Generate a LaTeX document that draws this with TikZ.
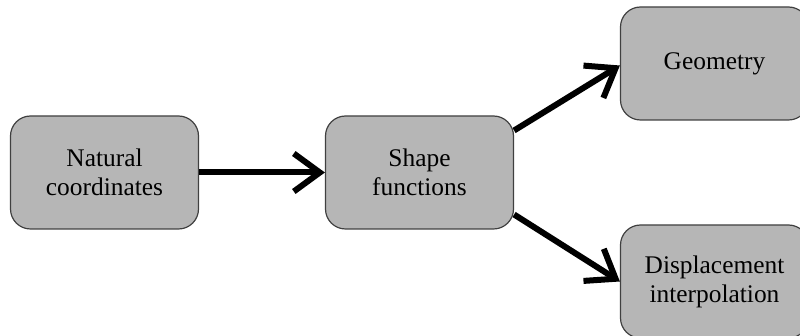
\documentclass[tikz,border=0pt]{standalone}
\usepackage{fontspec}
\setmainfont{Liberation Serif}
\usetikzlibrary{arrows.meta}
\definecolor{boxgray}{RGB}{182,182,182}
\begin{document}
\begin{tikzpicture}[x=0.5pt,y=-0.5pt,
  block/.style={draw=black!75, line width=0.6pt, fill=boxgray,
    rounded corners=10pt, minimum width=94pt, minimum height=56.5pt,
    inner sep=0pt, align=center,
    font=\fontsize{12.7pt}{14.5pt}\selectfont},
  flow/.style={line width=3pt,
    -{Straight Barb[length=13pt,width=19pt,sharp]}}]
  \useasboundingbox (0,0) rectangle (800,336);

  % processing stages
  \node[block] (natural) at (104.5,172.5) {Natural\\coordinates};
  \node[block] (shape)   at (419.5,172.5) {Shape\\functions};
  \node[block] (geom)    at (714.5,63.5)  {Geometry};
  \node[block] (disp)    at (714.5,281.5) {Displacement\\interpolation};

  % data flow between stages
  \draw[flow] (natural.east) -- (shape.west);
  \draw[flow] ([yshift=21pt]shape.east) -- ([yshift=-1pt]geom.west);
  \draw[flow] ([yshift=-21pt]shape.east) -- (disp.west);
\end{tikzpicture}
\end{document}
